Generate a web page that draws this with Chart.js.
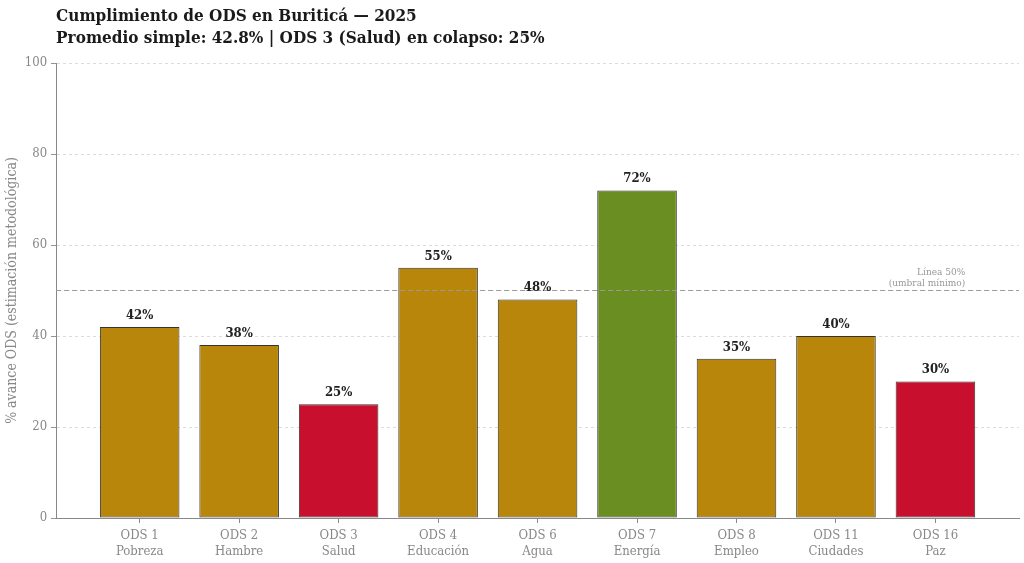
<!DOCTYPE html>
<html>
<head>
<meta charset="utf-8">
<script src="https://cdn.jsdelivr.net/npm/chart.js@4/dist/chart.umd.min.js"></script>
<style>
  html, body { margin: 0; padding: 0; background: #fff; }
  #wrap { width: 1024px; height: 563px; position: relative; }
</style>
</head>
<body>
<div id="wrap"><canvas id="odsChart"></canvas></div>
<script>
const FONT = '"DejaVu Serif Condensed", "DejaVu Serif", serif';

const codes = ["ODS 1", "ODS 2", "ODS 3", "ODS 4", "ODS 6", "ODS 7", "ODS 8", "ODS 11", "ODS 16"];
const names = ["Pobreza", "Hambre", "Salud", "Educación", "Agua", "Energía", "Empleo", "Ciudades", "Paz"];
const progress = [42, 38, 25, 55, 48, 72, 35, 40, 30];
const barColors = ["#b8860b", "#b8860b", "#c8102e", "#b8860b", "#b8860b", "#6b8e23", "#b8860b", "#b8860b", "#c8102e"];
const yTicks = [0, 20, 40, 60, 80, 100];
const threshold = 50;
const titleLines = [
  "Cumplimiento de ODS en Buriticá — 2025",
  "Promedio simple: 42.8% | ODS 3 (Salud) en colapso: 25%",
];
const thresholdLabel = ["Línea 50%", "(umbral mínimo)"];

const el = (id) => document.getElementById(id);

// title, threshold line and value labels
const overlay = {
  id: "overlay",
  afterDatasetsDraw(chart) {
    const { ctx, chartArea, scales } = chart;
    const x = scales.x;
    const y = scales.y;
    ctx.save();

    const yLine = y.getPixelForValue(threshold);
    ctx.strokeStyle = "#9a9a9a";
    ctx.lineWidth = 1;
    ctx.setLineDash([5, 3]);
    ctx.beginPath();
    ctx.moveTo(chartArea.left, yLine);
    ctx.lineTo(chartArea.right, yLine);
    ctx.stroke();
    ctx.setLineDash([]);

    ctx.fillStyle = "#999";
    ctx.font = `10px ${FONT}`;
    ctx.textAlign = "right";
    ctx.textBaseline = "middle";
    ctx.fillText(thresholdLabel[0], x.getPixelForValue(8.3), yLine - 18);
    ctx.fillText(thresholdLabel[1], x.getPixelForValue(8.3), yLine - 7);

    ctx.fillStyle = "#222";
    ctx.font = `bold 13px ${FONT}`;
    ctx.textAlign = "center";
    ctx.textBaseline = "bottom";
    progress.forEach((v, i) => {
      ctx.fillText(`${v}%`, x.getPixelForValue(i), y.getPixelForValue(v) - 5);
    });

    ctx.fillStyle = "#1a1a1a";
    ctx.font = `bold 17px ${FONT}`;
    ctx.textAlign = "left";
    ctx.textBaseline = "alphabetic";
    ctx.fillText(titleLines[0], chartArea.left, 21);
    ctx.fillText(titleLines[1], chartArea.left, 43);
    ctx.restore();
  },
};

new Chart(el("odsChart"), {
  type: "bar",
  data: {
    datasets: [{
      data: progress.map((v, i) => ({ x: i, y: v })),
      backgroundColor: barColors,
      borderColor: "#333",
      borderWidth: 1,
      borderSkipped: false,
      barPercentage: 0.8,
      categoryPercentage: 1,
    }],
  },
  options: {
    responsive: true,
    maintainAspectRatio: false,
    animation: false,
    layout: { padding: { top: 63, right: 5, left: 3, bottom: 0 } },
    plugins: {
      legend: { display: false },
      tooltip: { enabled: false },
    },
    scales: {
      x: {
        type: "linear",
        offset: false,
        min: -0.84,
        max: 8.84,
        afterBuildTicks: (scale) => {
          scale.ticks = codes.map((_, i) => ({ value: i }));
        },
        afterFit: (scale) => {
          scale.height = 45;
        },
        ticks: {
          autoSkip: false,
          maxRotation: 0,
          color: "#888",
          padding: 5,
          font: { family: FONT, size: 13, lineHeight: 1.2 },
          callback: (value) => [codes[value], names[value]],
        },
        grid: { offset: false, drawOnChartArea: false, tickLength: 5, tickColor: "#888" },
        border: { color: "#888", width: 1 },
      },
      y: {
        min: 0,
        max: 100,
        afterBuildTicks: (scale) => {
          scale.ticks = yTicks.map((value) => ({ value }));
        },
        ticks: {
          color: "#888",
          padding: 4,
          font: { family: FONT, size: 13 },
        },
        grid: {
          color: "#dcdcdc",
          tickColor: "#888",
          tickLength: 5,
          tickBorderDash: [1, 0],
        },
        border: { color: "#888", width: 1, dash: [3, 3] },
        title: {
          display: true,
          text: "% avance ODS (estimación metodológica)",
          color: "#888",
          padding: { top: 1, bottom: 0 },
          font: { family: FONT, size: 14 },
        },
      },
    },
  },
  plugins: [overlay],
});
</script>
</body>
</html>
